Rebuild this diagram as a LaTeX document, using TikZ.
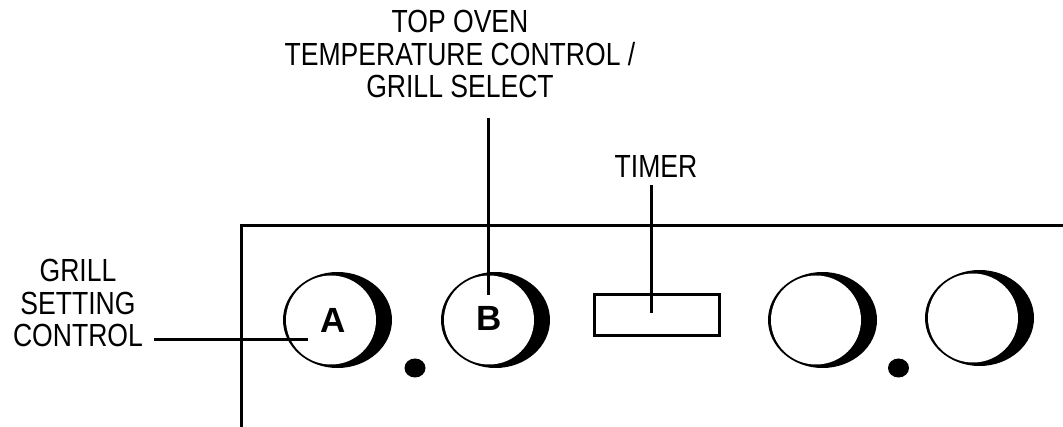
\documentclass[tikz,border=0pt]{standalone}
\usepackage{fontspec}
\setmainfont{Liberation Sans}
\newfontfamily\condfont[FakeStretch=0.83]{Liberation Sans}
\begin{document}
\begin{tikzpicture}[x=1pt,y=-1pt,
  lbl/.style={inner sep=0pt, align=center, font=\condfont\fontsize{32}{32.5}\selectfont},
  letter/.style={inner sep=0pt, font=\fontsize{35}{35}\selectfont\bfseries},
  leader/.style={line width=3pt},
  knob/.pic={
    \fill[black] (6.5,0) ellipse [x radius=54.5pt, y radius=48pt];
    \fill[white] (0,0) ellipse [x radius=45pt, y radius=44.5pt];
  }]
\useasboundingbox (0,0) rectangle (1063,427);
% panel
\draw[line width=3pt, line join=miter] (241,427) -- (241,225.5) -- (1063,225.5);
% knobs
\pic at (331,320) {knob};
\pic at (489,320) {knob};
\pic at (816,320) {knob};
\pic at (973,318) {knob};
% dots
\fill (415,368) ellipse [x radius=10.5pt, y radius=9.5pt];
\fill (898.5,368) ellipse [x radius=10.5pt, y radius=9.5pt];
% timer
\node[draw, line width=3pt, minimum width=125pt, minimum height=41pt, inner sep=0pt] (timer) at (657,315) {};
% letters
\node[letter] (A) at (333.5,320) {A};
\node[letter] (B) at (489,318) {B};
% labels
\node[lbl, anchor=north] (top) at (460,10) {TOP OVEN\\TEMPERATURE CONTROL /\\GRILL SELECT};
\node[lbl, anchor=north] (gsc) at (78,259) {GRILL\\SETTING\\CONTROL};
\node[lbl, anchor=north] (tim) at (656,155) {TIMER};
% leaders
\coordinate (bTop) at (488,118);
\coordinate (bEnd) at (488,295);
\coordinate (tTop) at (651,185);
\coordinate (tEnd) at (651,313);
\coordinate (aL) at (154,340);
\coordinate (aR) at (308,340);
\draw[leader] (bTop) -- (bEnd);
\draw[leader] (tTop) -- (tEnd);
\draw[leader] (aL) -- (aR);
\end{tikzpicture}
\end{document}
